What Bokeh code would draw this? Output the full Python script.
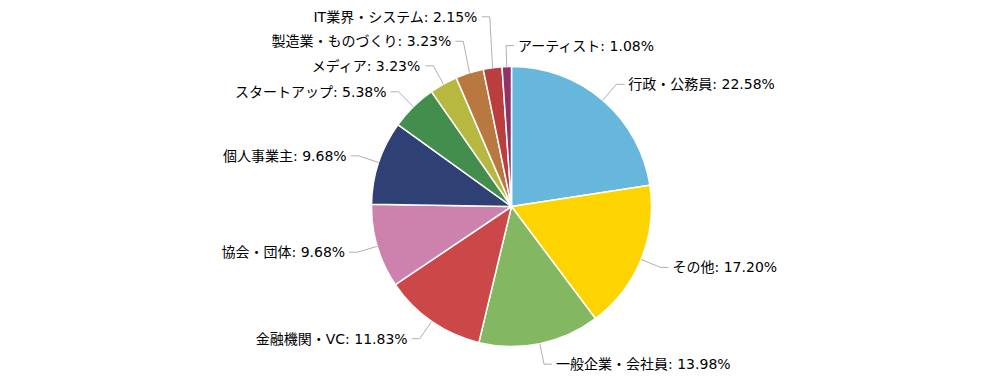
import math
from bokeh.plotting import figure
from bokeh.models import ColumnDataSource, Range1d
from bokeh.core.properties import value
from bokeh.embed import file_html
from bokeh.resources import INLINE

categories = ["行政・公務員", "その他", "一般企業・会社員", "金融機関・VC", "協会・団体",
              "個人事業主", "スタートアップ", "メディア", "製造業・ものづくり",
              "IT業界・システム", "アーティスト"]
percents = [22.58, 17.20, 13.98, 11.83, 9.68, 9.68, 5.38, 3.23, 3.23, 2.15, 1.08]
colors = ["#67b7dc", "#fdd400", "#84b761", "#cc4748", "#cd82ad", "#2f4074",
          "#448e4d", "#b7b83f", "#b9783f", "#b93e3d", "#913167"]

W, H = 984, 374
PAGE_H = 390
cx, cy = 511, PAGE_H - 206
R = 140
LABEL_R = R + 21
SEG = 8
GAP_TXT = 4
MIN_SP = 24.5

p = figure(width=W, height=H, x_range=Range1d(0, W), y_range=Range1d(PAGE_H - H, PAGE_H),
           output_backend="svg", toolbar_location=None, min_border=0,
           x_axis_type=None, y_axis_type=None)
p.grid.visible = False
p.outline_line_color = None
p.background_fill_color = "white"
p.border_fill_color = "white"

total = sum(percents)
starts, ends, mids = [], [], []
acc = 0.0
for v in percents:
    a0 = acc / total * 2 * math.pi
    acc += v
    a1 = acc / total * 2 * math.pi
    starts.append(a0); ends.append(a1); mids.append((a0 + a1) / 2)

# bokeh angles: anticlockwise from +x; ours: clockwise from top
wedge_src = ColumnDataSource(dict(
    start=[math.pi / 2 - e for e in ends],
    end=[math.pi / 2 - s for s in starts],
    color=colors,
))
p.wedge(x=cx, y=cy, radius=R, start_angle="start", end_angle="end", source=wedge_src,
        fill_color="color", line_color="white", line_width=1.5)

# label layout
items = []
for i, m in enumerate(mids):
    sx, sy = cx + R * math.sin(m), cy + R * math.cos(m)
    ex, ey = cx + LABEL_R * math.sin(m), cy + LABEL_R * math.cos(m)
    side = "right" if math.sin(m) >= -0.06 else "left"
    items.append(dict(i=i, sx=sx, sy=sy, ex=ex, ey=ey, side=side))

left = sorted([it for it in items if it["side"] == "left"], key=lambda d: d["ey"])
prev = None
for it in left:
    if prev is not None and it["ey"] < prev + MIN_SP:
        it["ey"] = prev + MIN_SP
    prev = it["ey"]
right = sorted([it for it in items if it["side"] == "right"], key=lambda d: -d["ey"])
prev = None
for it in right:
    if prev is not None and it["ey"] > prev - MIN_SP:
        it["ey"] = prev - MIN_SP
    prev = it["ey"]

xs, ys = [], []
lx, ly, txt, align = [], [], [], []
for it in items:
    d = 1 if it["side"] == "right" else -1
    hx = it["ex"] + d * SEG
    xs.append([it["sx"], it["ex"], hx])
    ys.append([it["sy"], it["ey"], it["ey"]])
    lx.append(hx + d * GAP_TXT)
    ly.append(it["ey"])
    txt.append(f"{categories[it['i']]}: {percents[it['i']]:.2f}%")
    align.append("left" if d == 1 else "right")

p.multi_line(xs=xs, ys=ys, line_color="#b0b0b0", line_width=1)
lab_src = ColumnDataSource(dict(x=lx, y=ly, text=txt, align=align))
p.text(x="x", y="y", text="text", text_align="align", text_baseline="middle", source=lab_src,
       text_font=value("'DejaVu Sans', 'Noto Sans CJK JP'"), text_font_size="14px",
       text_color="#000000")

open("out.html", "w").write(file_html(p, INLINE))
